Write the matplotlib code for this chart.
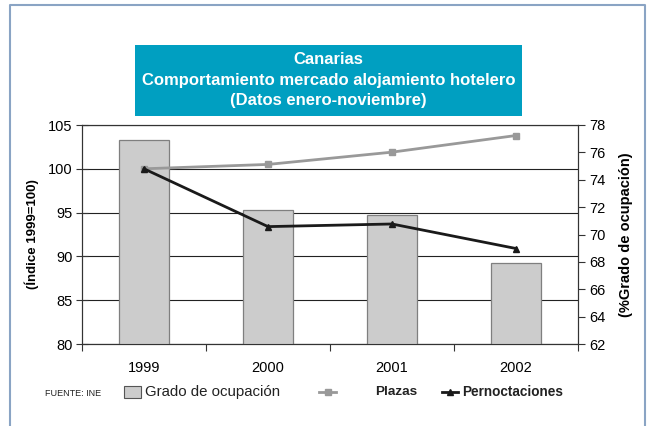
import matplotlib.pyplot as plt
from matplotlib.lines import Line2D
from matplotlib.patches import Rectangle

plt.rcParams['font.family'] = ['Liberation Sans', 'DejaVu Sans']

# data
years = ['1999', '2000', '2001', '2002']
grado = [76.9, 71.8, 71.4, 67.9]          # % grado de ocupacion (right axis)
plazas = [100.0, 100.5, 101.9, 103.8]     # indice 1999=100
pernoctaciones = [100.0, 93.4, 93.7, 90.9]

x = list(range(len(years)))

fig = plt.figure(figsize=(6.49, 4.26), dpi=100)
pos = [82 / 649, 1 - 344 / 426, (578 - 82) / 649, (344 - 125) / 426]

# base axes: left scale + gridlines
ax = fig.add_axes(pos)
ax.set_xlim(-0.5, 3.5)
ax.set_ylim(80, 105)
ax.set_yticks([80, 85, 90, 95, 100, 105])
ax.grid(axis='y', color='#222222', linewidth=0.8)
ax.set_axisbelow(True)
ax.set_xticks([-0.5, 0.5, 1.5, 2.5, 3.5])
ax.set_xticklabels([])
ax.set_xticks(x, minor=True)
ax.set_xticklabels(years, minor=True, fontsize=10.5)
ax.tick_params(axis='x', which='minor', length=0, pad=12)
ax.tick_params(axis='x', which='major', length=5, direction='out', color='#333333')
ax.tick_params(axis='y', direction='inout', length=8, labelsize=10.5, color='#333333', pad=3)
ax.set_ylabel('(Índice 1999=100)', fontsize=9.5, fontweight='bold', labelpad=6)
for s in ax.spines.values():
    s.set_color('#333333')
    s.set_linewidth(0.8)

# bars on right scale
ax2 = ax.twinx()
ax2.bar(x, grado, width=0.4, color='#cccccc', edgecolor='#7f7f7f', linewidth=0.9)
ax2.set_ylim(62, 78)
ax2.set_yticks(range(62, 79, 2))
ax2.tick_params(axis='y', direction='out', length=5, labelsize=10.5, color='#333333', pad=3)
ax2.set_ylabel('(%Grado de ocupación)', fontsize=10.5, fontweight='bold', labelpad=10)
for s in ax2.spines.values():
    s.set_color('#333333')
    s.set_linewidth(0.8)

# lines on top, sharing left scale
ax3 = fig.add_axes(pos, sharex=ax, sharey=ax)
ax3.patch.set_visible(False)
ax3.axis('off')
ax3.plot(x, plazas, color='#999999', linewidth=2, marker='s', markersize=5)
ax3.plot(x, pernoctaciones, color='#1a1a1a', linewidth=2, marker='^', markersize=4.5)

# title box
fig.patches.append(Rectangle((135 / 649, 1 - 116 / 426), (522 - 135) / 649, 71 / 426,
                             transform=fig.transFigure, facecolor='#009fc1', edgecolor='none'))
for ty, line in [(59, 'Canarias'),
                 (80, 'Comportamiento mercado alojamiento hotelero'),
                 (101, '(Datos enero-noviembre)')]:
    fig.text(328.5 / 649, 1 - ty / 426, line, ha='center', va='center',
             color='white', fontsize=12, fontweight='bold')

# legend row
ly = 1 - 392 / 426
fig.text(45 / 649, ly - 0.003, 'FUENTE: INE', fontsize=6.5, va='center', color='#222222')
fig.patches.append(Rectangle((124 / 649, ly - 6 / 426), 17 / 649, 12 / 426,
                             transform=fig.transFigure, facecolor='#cccccc',
                             edgecolor='#555555', linewidth=0.8))
fig.text(145 / 649, ly, 'Grado de ocupación', fontsize=10.8, va='center', color='#222222')
fig.lines.append(Line2D([319 / 649, 336 / 649], [ly, ly], transform=fig.transFigure,
                        color='#999999', linewidth=2))
fig.lines.append(Line2D([327.5 / 649], [ly], transform=fig.transFigure, color='#999999',
                        marker='s', markersize=4, linestyle='None'))
fig.text(375 / 649, ly, 'Plazas', fontsize=9.7, fontweight='bold', va='center', color='#222222')
fig.lines.append(Line2D([442 / 649, 458 / 649], [ly, ly], transform=fig.transFigure,
                        color='#1a1a1a', linewidth=2))
fig.lines.append(Line2D([450 / 649], [ly], transform=fig.transFigure, color='#1a1a1a',
                        marker='^', markersize=4, linestyle='None'))
fig.text(462 / 649, ly, 'Pernoctaciones', fontsize=9.8, fontweight='bold', va='center',
         color='#222222')

# outer frame (left, top, right)
fc = '#8aa4c4'
fig.lines.append(Line2D([10 / 649, 10 / 649, 645 / 649, 645 / 649], [0, 1 - 5 / 426, 1 - 5 / 426, 0],
                        transform=fig.transFigure, color=fc, linewidth=1.5))

fig.savefig('out.png', dpi=100)
